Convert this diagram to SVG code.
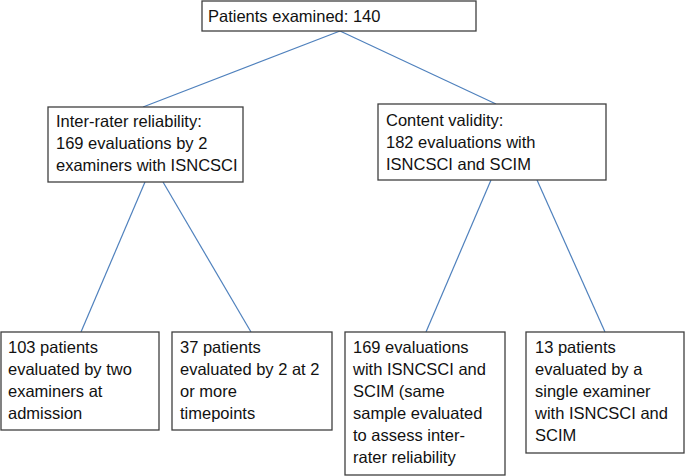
<svg xmlns="http://www.w3.org/2000/svg" width="685" height="476" viewBox="0 0 685 476">
<style>
.box{fill:#fff;stroke:#3f3f3f;stroke-width:1.3}
.t{font-family:"Liberation Sans",Arial,sans-serif;font-size:16.5px;fill:#111}
.c{stroke:#4f81bd;stroke-width:1.2;fill:none}
</style>
<rect width="685" height="476" fill="#fff"/>
<g id="connectors">
<line class="c" x1="340" y1="31" x2="143" y2="107"/>
<line class="c" x1="340" y1="31" x2="496" y2="104"/>
<line class="c" x1="145" y1="182" x2="81" y2="332"/>
<line class="c" x1="163" y1="182" x2="251" y2="332"/>
<line class="c" x1="491" y1="180" x2="426" y2="332"/>
<line class="c" x1="537" y1="180" x2="605" y2="332"/>
</g>
<g id="n-top">
<rect class="box" x="202" y="1" width="274" height="30"/>
<text class="t" x="208" y="22">Patients examined: 140</text>
</g>
<g id="n-inter">
<rect class="box" x="48" y="107" width="195" height="75"/>
<text class="t" x="56" y="127">Inter-rater reliability:</text>
<text class="t" x="56" y="149">169 evaluations by 2</text>
<text class="t" x="56" y="171">examiners with ISNCSCI</text>
</g>
<g id="n-content">
<rect class="box" x="378" y="104" width="228" height="76"/>
<text class="t" x="386" y="126">Content validity:</text>
<text class="t" x="386" y="148">182 evaluations with</text>
<text class="t" x="386" y="170">ISNCSCI and SCIM</text>
</g>
<g id="n-103">
<rect class="box" x="1" y="332" width="158" height="98"/>
<text class="t" x="8" y="353">103 patients</text>
<text class="t" x="8" y="375">evaluated by two</text>
<text class="t" x="8" y="397">examiners at</text>
<text class="t" x="8" y="419">admission</text>
</g>
<g id="n-37">
<rect class="box" x="172" y="332" width="160" height="98"/>
<text class="t" x="180" y="353">37 patients</text>
<text class="t" x="180" y="375">evaluated by 2 at 2</text>
<text class="t" x="180" y="397">or more</text>
<text class="t" x="180" y="419">timepoints</text>
</g>
<g id="n-169">
<rect class="box" x="345" y="332" width="160" height="143"/>
<text class="t" x="353" y="353">169 evaluations</text>
<text class="t" x="353" y="375">with ISNCSCI and</text>
<text class="t" x="353" y="397">SCIM (same</text>
<text class="t" x="353" y="419">sample evaluated</text>
<text class="t" x="353" y="441">to assess inter-</text>
<text class="t" x="353" y="463">rater reliability</text>
</g>
<g id="n-13">
<rect class="box" x="526" y="332" width="158" height="121"/>
<text class="t" x="535" y="353">13 patients</text>
<text class="t" x="535" y="375">evaluated by a</text>
<text class="t" x="535" y="397">single examiner</text>
<text class="t" x="535" y="419">with ISNCSCI and</text>
<text class="t" x="535" y="441">SCIM</text>
</g>
</svg>
